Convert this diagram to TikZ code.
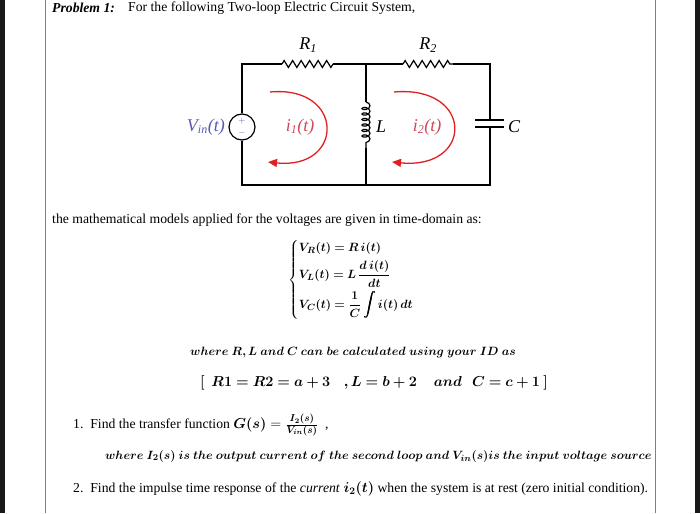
\documentclass[tikz,border=0pt]{standalone}
\usepackage{amsmath,bm}
\usepackage{fontspec}
\setmainfont{Liberation Serif}
\usetikzlibrary{decorations.pathmorphing,arrows.meta}
\definecolor{vblue}{HTML}{5A5AB0}
\definecolor{ired}{HTML}{D04858}
\definecolor{ared}{HTML}{E02020}
\begin{document}
\begin{tikzpicture}[x=1pt,y=-1pt,
  wire/.style={line width=1.2pt},
  txt/.style={anchor=west,inner sep=0pt,font=\fontsize{13.7}{16}\selectfont},
  clab/.style={font=\fontsize{18}{20}\selectfont\itshape,inner sep=0pt},
  loop/.style={ared,line width=1.3pt,-{Triangle[length=9pt,width=8pt]}}]
\useasboundingbox (0,0) rectangle (700,513);
\fill[black!90] (0,0) rectangle (5,513);
\fill[black!90] (695,0) rectangle (700,513);
\draw[gray,line width=0.8pt] (45,0) -- (45,513);
\draw[gray,line width=0.8pt] (655,0) -- (655,513);
\node[txt] (p1) at (52,8) {\textbf{\textit{Problem 1:}}};
\node[txt] (p2) at (128,8) {For the following Two-loop Electric Circuit System,};
% circuit
\coordinate (tl) at (242,64); \coordinate (tm) at (366,64); \coordinate (tr) at (490,64);
\coordinate (bl) at (242,185); \coordinate (bm) at (366,185); \coordinate (br) at (490,185);
\node[circle,draw,line width=1.2pt,minimum size=26pt,inner sep=0pt] (src) at (242,127) {};
\node[font=\small,text=vblue,inner sep=0pt] (plus) at (242,121) {$+$};
\node[font=\small,text=vblue,inner sep=0pt] (minus) at (242,133) {$-$};
\draw[wire] (src.north) -- (tl) -- (282,64);
\draw[wire,decorate,decoration={zigzag,segment length=8.5pt,amplitude=3.5pt}] (282,64) -- (333,64);
\draw[wire] (333,64) -- (tm) -- (403,64);
\draw[wire,decorate,decoration={zigzag,segment length=8.5pt,amplitude=3.5pt}] (403,64) -- (453,64);
\draw[wire] (453,64) -- (tr) -- (490,120);
\draw[wire] (490,127) -- (br) -- (bm) -- (bl) -- (src.south);
\draw[wire] (475,120) -- (504,120);
\draw[wire] (475,127) -- (504,127);
\draw[wire] (tm) -- (366,102);
\draw[wire,decorate,decoration={coil,aspect=0.6,segment length=5.5pt,amplitude=4pt}] (366,102) -- (366,148);
\draw[wire] (366,148) -- (bm);
\node[clab] (r1) at (308,45) {R\textsubscript{\large 1}};
\node[clab] (r2) at (428,45) {R\textsubscript{\large 2}};
\node[clab,anchor=east] (vin) at (225,127) {\textcolor{vblue}{V\textsubscript{\large in}(t)}};
\node[clab,anchor=west] (lL) at (376,127) {L};
\node[clab,anchor=west] (lC) at (508,127) {C};
\node[clab,text=ired] (i1) at (300,127) {i\textsubscript{\large 1}(t)};
\node[clab,text=ired] (i2) at (427,127) {i\textsubscript{\large 2}(t)};
\draw[loop] (270,92) .. controls (345,85) and (345,170) .. (268,162);
\draw[loop] (394,92) .. controls (474,85) and (474,170) .. (392,162);
% text
\node[txt] (t1) at (52,220) {the mathematical models applied for the voltages are given in time-domain as:};
\node[anchor=west,inner sep=0pt,font=\fontsize{13}{15}\selectfont] (eq) at (288,280)
 {$\left\{\begin{aligned}
 &\bm{V_R(t)=R\,i(t)}\\[0pt]
 &\bm{V_L(t)=L\,\dfrac{d\,i(t)}{dt}}\\[0pt]
 &\bm{V_C(t)=\dfrac{1}{C}\int i(t)\,dt}
 \end{aligned}\right.$};
\node[txt,font=\fontsize{13}{16}\selectfont] (t2) at (190,352) {$\bm{where\ R, L\ and\ C\ can\ be\ calculated\ using\ your\ ID\ as}$};
\node[txt,font=\fontsize{13.5}{16}\selectfont] (t3) at (200,383) {$\bm{[\ \ R1=R2=a+3\quad ,L=b+2\quad\ and\ \ \ C=c+1\ ]}$};
\node[txt] (t4) at (73,425) {1.\ \ Find the transfer function $\bm{G(s)}=\frac{\bm{I_2(s)}}{\bm{V_{in}(s)}}$\ \ ,};
\node[txt,font=\fontsize{12.7}{16}\selectfont] (t5) at (105,456) {$\bm{where\ I_2(s)\ is\ the\ output\ current\ of\ the\ second\ loop\ and\ V_{in}(s) is\ the\ input\ voltage\ source}$};
\node[txt] (t6) at (73,489) {2.\ \ Find the impulse time response of the \textit{current} $\bm{i_2(t)}$ when the system is at rest (zero initial condition).};
\end{tikzpicture}
\end{document}
